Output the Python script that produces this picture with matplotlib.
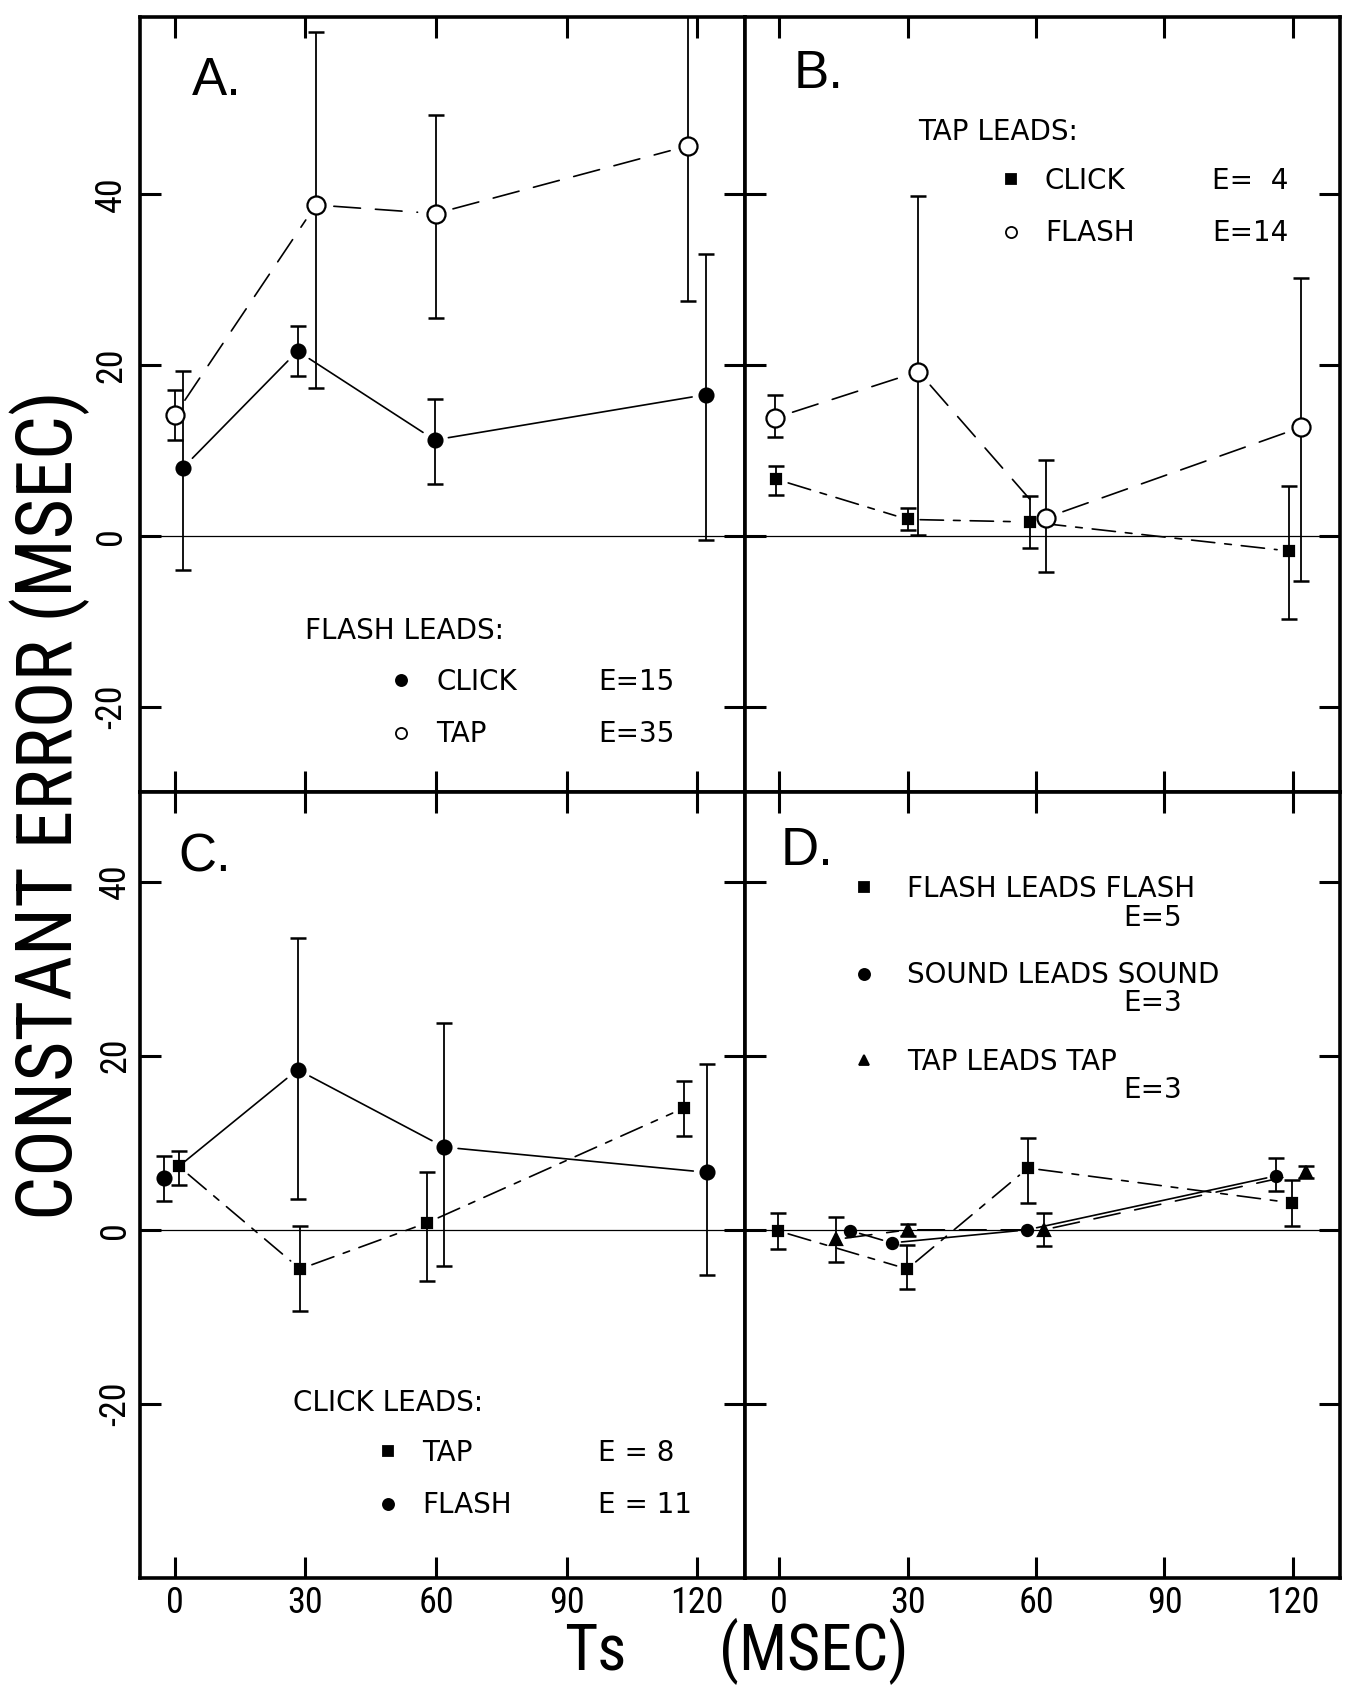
import matplotlib
matplotlib.use("Agg")
import matplotlib.pyplot as plt
from matplotlib.lines import Line2D
from matplotlib import font_manager as fm
import numpy as np

plt.rcParams['axes.unicode_minus'] = False

W, H, DPI = 1361, 1689, 100
PLAIN = ['DejaVu Sans']
HELV = ['Liberation Sans', 'DejaVu Sans']
nan = np.nan

# ---------------- data ----------------
# Panel A: FLASH leads
a_click_x = [1.8, 28.2, 59.7, 122.0]
a_click_y = [7.9, 21.6, 11.2, 16.5]
a_click_lo = [-4.0, 18.7, 6.0, -0.5]
a_click_hi = [19.3, 24.5, 16.0, 33.0]

a_tap_x = [0.0, 32.4, 59.9, 117.8]
a_tap_y = [14.1, 38.7, 37.7, 45.6]
a_tap_lo = [11.2, 17.3, 25.5, 27.5]
a_tap_hi = [17.0, 59.0, 49.2, 64.0]

# Panel B: TAP leads
b_click_x = [-0.7, 30.0, 58.6, 119.2]
b_click_y = [6.6, 1.9, 1.6, -1.8]
b_click_lo = [4.8, 0.7, -1.4, -9.8]
b_click_hi = [8.1, 3.2, 4.7, 5.8]

b_flash_x = [-0.9, 32.5, 62.3, 122.0]
b_flash_y = [13.8, 19.2, 2.1, 12.7]
b_flash_lo = [11.5, 0.1, -4.3, -5.3]
b_flash_hi = [16.5, 39.7, 8.8, 30.2]

# Panel C: CLICK leads
c_tap_x = [0.9, 28.8, 57.9, 117.0]
c_tap_y = [7.3, -4.5, 0.8, 14.0]
c_tap_lo = [5.1, -9.3, -5.9, 10.8]
c_tap_hi = [9.1, 0.4, 6.7, 17.1]

c_flash_x = [-2.5, 28.2, 61.9, 122.3]
c_flash_y = [5.9, 18.4, 9.5, 6.6]
c_flash_lo = [3.3, 3.5, -4.1, -5.2]
c_flash_hi = [8.5, 33.5, 23.8, 19.0]

# Panel D: same-modality pairs
d_flash_x = [-0.4, 29.9, 58.1, 119.7]
d_flash_y = [-0.1, -4.5, 7.1, 3.1]
d_flash_lo = [-2.2, -6.8, 3.1, 0.4]
d_flash_hi = [1.9, -1.7, 10.6, 5.7]

d_sound_x = [16.6, 26.3, 57.9, 116.1]
d_sound_y = [-0.1, -1.5, 0.0, 6.2]
d_sound_lo = [nan, nan, nan, 4.5]
d_sound_hi = [nan, nan, nan, 8.2]

d_tap_x = [13.2, 30.1, 61.8, 123.1]
d_tap_y = [-1.1, 0.0, 0.0, 6.6]
d_tap_lo = [-3.7, -0.7, -1.9, 5.9]
d_tap_hi = [1.5, 0.7, 1.9, 7.3]

x_ticks = [0, 30, 60, 90, 120]
x_ticklabels = ['0', '30', '60', '90', '120']
y_ticks = [-20, 0, 20, 40]
y_ticklabels = ['-20', '0', '20', '40']


# ---------------- fonts ----------------
def narrow_font():
    """Pick a condensed sans face if one is installed."""
    prefs = ['Liberation Sans Narrow', 'Roboto Condensed', 'Open Sans Condensed',
             'DejaVu Sans Condensed', 'Noto Sans Condensed']
    entries = fm.fontManager.ttflist
    for name in prefs:
        for f in entries:
            if f.name == name and f.weight in (400, 'normal', 'regular') and f.style == 'normal':
                return f.fname, 1.0
    for f in entries:
        low = f.fname.lower()
        if ('condensed' in low or 'narrow' in low) and 'bold' not in low \
                and 'oblique' not in low and 'italic' not in low and 'light' not in low \
                and 'mono' not in low and 'serif' not in low.replace('sans', ''):
            return f.fname, 1.0
    return None, 0.86


NARROW_FILE, NARROW_SCALE = narrow_font()


def nfont(size):
    if NARROW_FILE:
        return fm.FontProperties(fname=NARROW_FILE, size=size)
    return fm.FontProperties(family='DejaVu Sans', size=size * NARROW_SCALE)


# ---------------- layout ----------------
fig = plt.figure(figsize=(W / DPI, H / DPI), dpi=DPI, facecolor='white')


def rect(x0, y0, x1, y1):
    return [x0 / W, 1 - y1 / H, (x1 - x0) / W, (y1 - y0) / H]


XL, XM, XR = 140, 745, 1340
YT, YM, YB = 17, 792, 1578
axA = fig.add_axes(rect(XL, YT, XM, YM))
axB = fig.add_axes(rect(XM, YT, XR, YM))
axC = fig.add_axes(rect(XL, YM, XM, YB))
axD = fig.add_axes(rect(XM, YM, XR, YB))
boxes = {axA: (XL, YT, XM, YM), axB: (XM, YT, XR, YM),
         axC: (XL, YM, XM, YB), axD: (XM, YM, XR, YB)}


def afrac(ax, px, py):
    x0, y0, x1, y1 = boxes[ax]
    return (px - x0) / (x1 - x0), 1 - (py - y0) / (y1 - y0)


for ax in (axA, axB, axC, axD):
    ax.set_xlim(-8, 131)
    ax.set_xticks(x_ticks)
    ax.set_yticks(y_ticks)
    ax.tick_params(which='both', direction='in', length=15, width=2.2,
                   top=True, right=True, bottom=True, left=True,
                   labelbottom=False, labelleft=False)
    for sp in ax.spines.values():
        sp.set_linewidth(2.6)
    ax.axhline(0, color='black', lw=0.9, zorder=1)

axA.set_ylim(-30, 60.7)
axB.set_ylim(-30, 60.7)
axC.set_ylim(-40, 50.3)
axD.set_ylim(-40, 50.3)

for ax in (axA, axC):
    ax.tick_params(labelleft=True, pad=8)
    ax.set_yticklabels(y_ticklabels, rotation=90, va='center',
                       fontproperties=nfont(26))
for ax in (axC, axD):
    ax.tick_params(labelbottom=True, pad=5)
    ax.set_xticklabels(x_ticklabels, fontproperties=nfont(26))

SOLID = '-'
LDASH = (0, (16, 9))
DASHDOT = (0, (14, 6, 4, 6))


def series(ax, xs, ys, lo, hi, marker, ms, mfc, ls, gap, key_ms):
    xs = np.asarray(xs, float)
    ys = np.asarray(ys, float)
    lo = np.asarray(lo, float)
    hi = np.asarray(hi, float)
    # connecting segments, stopped short of each symbol
    for i in range(len(xs) - 1):
        ax.annotate('', xy=(xs[i + 1], ys[i + 1]), xytext=(xs[i], ys[i]),
                    arrowprops=dict(arrowstyle='-', lw=1.2, color='black',
                                    linestyle=ls, shrinkA=gap, shrinkB=gap))
    ok = ~np.isnan(lo)
    ax.errorbar(xs[ok], ys[ok], yerr=[ys[ok] - lo[ok], hi[ok] - ys[ok]],
                fmt='none', ecolor='black', elinewidth=1.3, capsize=6,
                capthick=1.8, zorder=3)
    ax.plot(xs, ys, linestyle='none', marker=marker, ms=ms, mfc=mfc,
            mec='black', mew=1.6, zorder=4)
    return Line2D([], [], linestyle='none', marker=marker, ms=key_ms, mfc=mfc,
                  mec='black', mew=1.3)


hA1 = series(axA, a_click_x, a_click_y, a_click_lo, a_click_hi, 'o', 10, 'black', SOLID, 10, 8)
hA2 = series(axA, a_tap_x, a_tap_y, a_tap_lo, a_tap_hi, 'o', 13, 'white', LDASH, 13, 8)

hB1 = series(axB, b_click_x, b_click_y, b_click_lo, b_click_hi, 's', 7, 'black', DASHDOT, 9, 6.5)
hB2 = series(axB, b_flash_x, b_flash_y, b_flash_lo, b_flash_hi, 'o', 13, 'white', LDASH, 13, 8)

hC1 = series(axC, c_tap_x, c_tap_y, c_tap_lo, c_tap_hi, 's', 7, 'black', DASHDOT, 9, 6.5)
hC2 = series(axC, c_flash_x, c_flash_y, c_flash_lo, c_flash_hi, 'o', 10, 'black', SOLID, 10, 8)

hD1 = series(axD, d_flash_x, d_flash_y, d_flash_lo, d_flash_hi, 's', 7, 'black', DASHDOT, 8, 6.5)
hD2 = series(axD, d_sound_x, d_sound_y, d_sound_lo, d_sound_hi, 'o', 8, 'black', SOLID, 7, 8)
hD3 = series(axD, d_tap_x, d_tap_y, d_tap_lo, d_tap_hi, '^', 8, 'black', LDASH, 7, 7)

# ---------------- annotations ----------------
LFS = 20
fs_px = LFS * DPI / 72.0


def keys(ax, handles, labels, mx, my, spacing, text_gap):
    row_h = 1.0 * fs_px
    left = mx - 0.5 * fs_px
    top = my - row_h / 2
    fx, fy = afrac(ax, left, top)
    hpad = (text_gap - 0.5 * fs_px) / fs_px
    ax.legend(handles, labels, loc='upper left', bbox_to_anchor=(fx, fy),
              frameon=False, borderpad=0, borderaxespad=0, handlelength=1.0,
              handletextpad=hpad, labelspacing=(spacing - row_h) / fs_px,
              prop={'family': PLAIN, 'size': LFS}, numpoints=1)


def ftext(px, py, s, **kw):
    fig.text(px / W, 1 - py / H, s, **kw)


# panel letters
for (px, py), s in [((192, 95), 'A.'), ((794, 88), 'B.'),
                    ((178, 871), 'C.'), ((781, 865), 'D.')]:
    ftext(px, py, s, family=HELV, fontsize=38, va='baseline', ha='left')

# Panel A
ftext(305, 631, 'FLASH LEADS:', family=PLAIN, fontsize=LFS, va='center')
keys(axA, [hA1, hA2], ['CLICK', 'TAP'], 401, 682, 52, 35)
ftext(598, 682, 'E=15', family=PLAIN, fontsize=LFS, va='center')
ftext(598, 734, 'E=35', family=PLAIN, fontsize=LFS, va='center')

# Panel B
ftext(918, 132, 'TAP LEADS:', family=PLAIN, fontsize=LFS, va='center')
keys(axB, [hB1, hB2], ['CLICK', 'FLASH'], 1011, 181, 52, 34)
ftext(1212, 181, 'E=  4', family=PLAIN, fontsize=LFS, va='center')
ftext(1212, 233, 'E=14', family=PLAIN, fontsize=LFS, va='center')

# Panel C
ftext(293, 1403, 'CLICK LEADS:', family=PLAIN, fontsize=LFS, va='center')
keys(axC, [hC1, hC2], ['TAP', 'FLASH'], 388, 1453, 52, 34)
ftext(598, 1453, 'E = 8', family=PLAIN, fontsize=LFS, va='center')
ftext(598, 1505, 'E = 11', family=PLAIN, fontsize=LFS, va='center')

# Panel D
keys(axD, [hD1, hD2, hD3],
     ['FLASH LEADS FLASH', 'SOUND LEADS SOUND', 'TAP LEADS TAP'],
     864, 889, 86, 43)
ftext(1153, 918, 'E=5', family=PLAIN, fontsize=LFS, va='center', ha='center')
ftext(1153, 1003, 'E=3', family=PLAIN, fontsize=LFS, va='center', ha='center')
ftext(1153, 1090, 'E=3', family=PLAIN, fontsize=LFS, va='center', ha='center')

# axis titles
ftext(50, 805, 'CONSTANT ERROR (MSEC)', fontproperties=nfont(56),
      rotation=90, ha='center', va='center')
ftext(595, 1670, 'Ts', fontproperties=nfont(46), ha='center', va='baseline')
ftext(814, 1670, '(MSEC)', fontproperties=nfont(46), ha='center', va='baseline')

fig.savefig('out.png', dpi=DPI, facecolor='white')
